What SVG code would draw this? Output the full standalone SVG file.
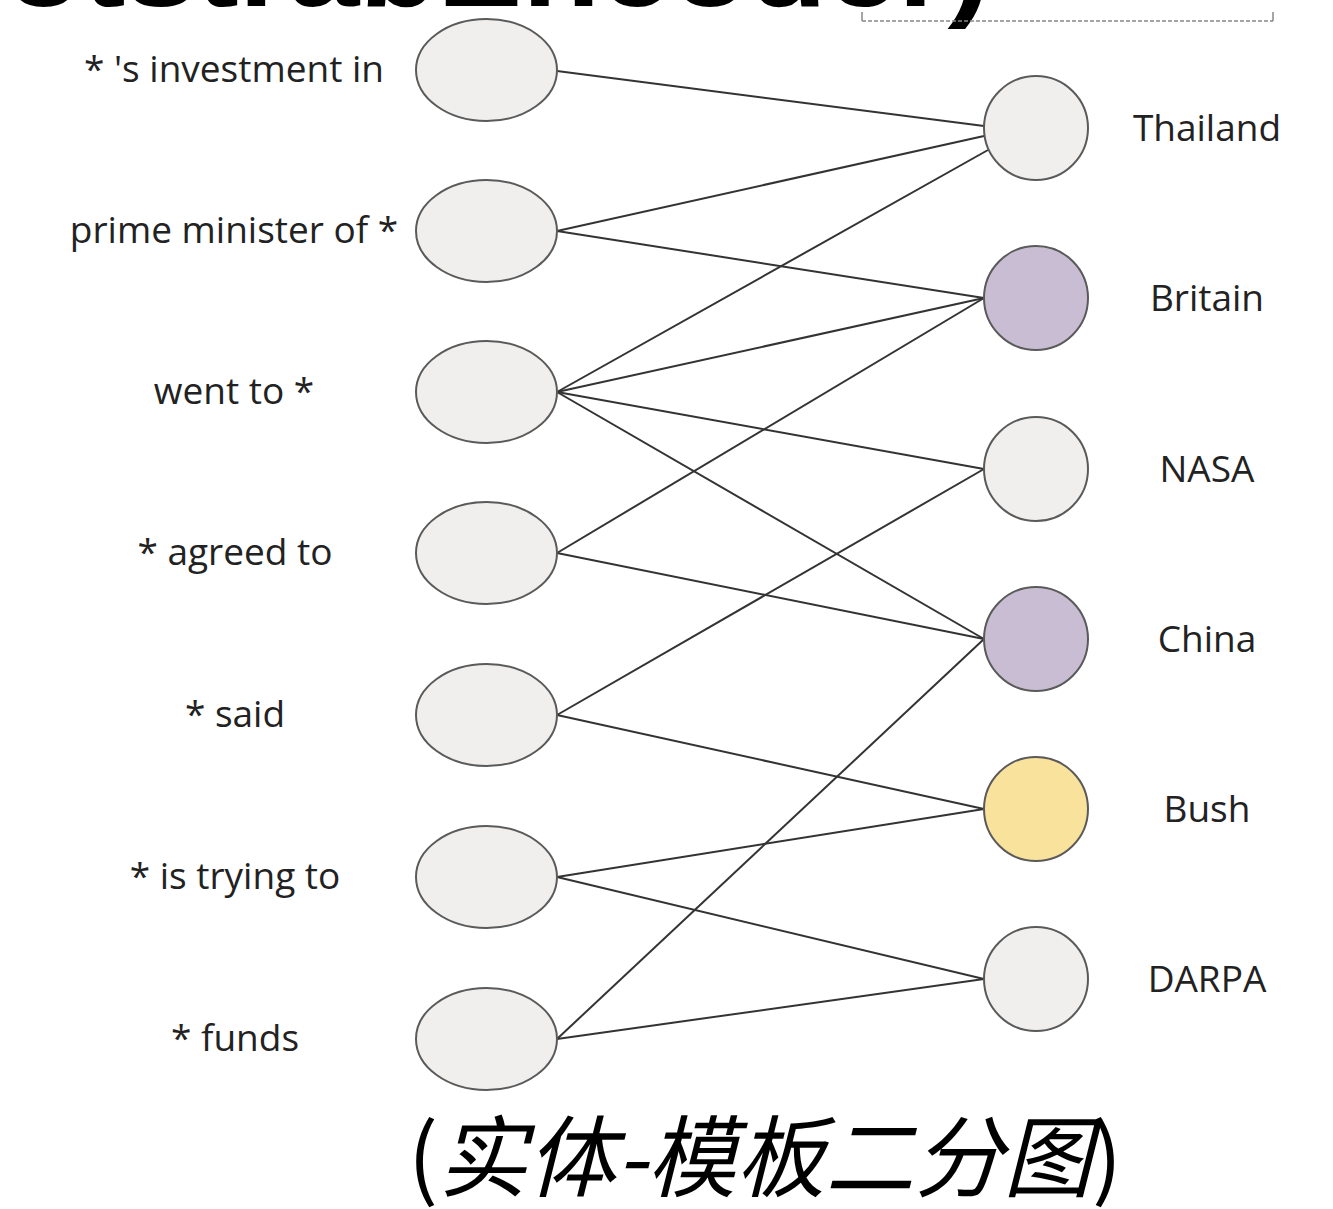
<svg xmlns="http://www.w3.org/2000/svg" width="1333" height="1209" viewBox="0 0 1333 1209">
<style>
.l{fill:#f0efee;stroke:#5a5a5a;stroke-width:2}
.p{fill:#c8bdd3;stroke:#5a5a5a;stroke-width:2}
.y{fill:#f9e29c;stroke:#5a5a5a;stroke-width:2}
.t{font-family:"Open Sans",Lato,"Liberation Sans",sans-serif;font-size:37px;font-weight:500;fill:#222;text-anchor:middle}
#edges line{stroke:#333;stroke-width:2}
</style>
<rect width="1333" height="1209" fill="#fff"/>
<text x="5" y="6" font-family="'Liberation Sans',sans-serif" font-weight="bold" font-size="110" textLength="985" lengthAdjust="spacingAndGlyphs" fill="#000">otstrabEncoder)</text>
<g id="dashbox" fill="none" stroke="#888" stroke-width="1.5">
<line x1="862" y1="21" x2="1273" y2="21" stroke-dasharray="4 2"/>
<line x1="862" y1="12" x2="862" y2="21"/>
<line x1="1273" y1="12" x2="1273" y2="21"/>
</g>
<g id="edges">
<line x1="557" y1="71" x2="984" y2="126"/>
<line x1="557" y1="231" x2="984" y2="136"/>
<line x1="557" y1="231" x2="984" y2="298"/>
<line x1="557" y1="392" x2="988" y2="150"/>
<line x1="557" y1="392" x2="984" y2="298"/>
<line x1="557" y1="392" x2="984" y2="469"/>
<line x1="557" y1="392" x2="984" y2="639"/>
<line x1="557" y1="553" x2="984" y2="298"/>
<line x1="557" y1="553" x2="984" y2="639"/>
<line x1="557" y1="715" x2="984" y2="469"/>
<line x1="557" y1="715" x2="984" y2="809"/>
<line x1="557" y1="877" x2="984" y2="809"/>
<line x1="557" y1="877" x2="984" y2="979"/>
<line x1="557" y1="1039" x2="984" y2="639"/>
<line x1="557" y1="1039" x2="984" y2="979"/>
</g>
<g id="n-invest"><ellipse class="l" cx="486.5" cy="70" rx="70.5" ry="51"/><text class="t" x="234" y="82">* 's investment in</text></g>
<g id="n-prime"><ellipse class="l" cx="486.5" cy="231" rx="70.5" ry="51"/><text class="t" x="234" y="243">prime minister of *</text></g>
<g id="n-went"><ellipse class="l" cx="486.5" cy="392" rx="70.5" ry="51"/><text class="t" x="234" y="404">went to *</text></g>
<g id="n-agreed"><ellipse class="l" cx="486.5" cy="553" rx="70.5" ry="51"/><text class="t" x="235" y="565">* agreed to</text></g>
<g id="n-said"><ellipse class="l" cx="486.5" cy="715" rx="70.5" ry="51"/><text class="t" x="235" y="727">* said</text></g>
<g id="n-trying"><ellipse class="l" cx="486.5" cy="877" rx="70.5" ry="51"/><text class="t" x="235" y="889">* is trying to</text></g>
<g id="n-funds"><ellipse class="l" cx="486.5" cy="1039" rx="70.5" ry="51"/><text class="t" x="235" y="1051">* funds</text></g>
<g id="n-thailand"><circle class="l" cx="1036" cy="128" r="52"/><text class="t" x="1207" y="141">Thailand</text></g>
<g id="n-britain"><circle class="p" cx="1036" cy="298" r="52"/><text class="t" x="1207" y="311">Britain</text></g>
<g id="n-nasa"><circle class="l" cx="1036" cy="469" r="52"/><text class="t" x="1207" y="482">NASA</text></g>
<g id="n-china"><circle class="p" cx="1036" cy="639" r="52"/><text class="t" x="1207" y="652">China</text></g>
<g id="n-bush"><circle class="y" cx="1036" cy="809" r="52"/><text class="t" x="1207" y="822">Bush</text></g>
<g id="n-darpa"><circle class="l" cx="1036" cy="979" r="52"/><text class="t" x="1207" y="992">DARPA</text></g>
<text x="765" y="1190" font-family="'Noto Sans CJK SC',sans-serif" font-size="89" font-weight="400" text-anchor="middle" fill="#000">(<tspan font-style="italic">实体-模板二分图</tspan>)</text>
</svg>
